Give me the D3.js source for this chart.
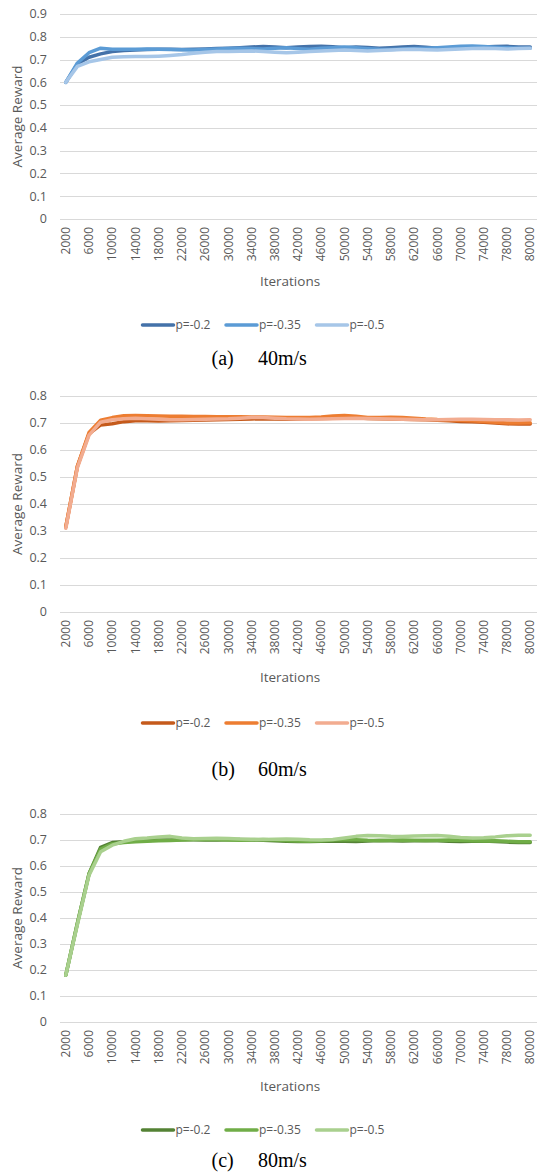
<!DOCTYPE html>
<html>
<head>
<meta charset="utf-8">
<script src="https://cdn.jsdelivr.net/npm/d3@7"></script>
<style>
  html, body { margin: 0; padding: 0; background: #fff; }
  svg { display: block; }
</style>
</head>
<body>
<svg id="chart" width="537" height="1176"></svg>
<script>
// ---------------- DATA ----------------
const iterations = [2000,4000,6000,8000,10000,12000,14000,16000,18000,20000,
  22000,24000,26000,28000,30000,32000,34000,36000,38000,40000,
  42000,44000,46000,48000,50000,52000,54000,56000,58000,60000,
  62000,64000,66000,68000,70000,72000,74000,76000,78000,79000,80000];
const tickLabels = ["2000","6000","10000","14000","18000","22000","26000","30000","34000","38000",
  "42000","46000","50000","54000","58000","62000","66000","70000","74000","78000","80000"];
const seriesNames = ["p=-0.2","p=-0.35","p=-0.5"];

const yTicksA = [0,0.1,0.2,0.3,0.4,0.5,0.6,0.7,0.8,0.9];
const yTicksB = [0,0.1,0.2,0.3,0.4,0.5,0.6,0.7,0.8];
const yTicksC = [0,0.1,0.2,0.3,0.4,0.5,0.6,0.7,0.8];

// (a) 40m/s
const a_p02  = [0.60,0.68,0.71,0.725,0.735,0.74,0.742,0.744,0.745,0.745,0.744,0.745,0.746,0.748,0.75,0.752,0.755,0.757,0.755,0.752,0.755,0.757,0.758,0.756,0.752,0.755,0.753,0.75,0.752,0.755,0.757,0.754,0.75,0.752,0.754,0.756,0.755,0.757,0.758,0.755,0.755];
const a_p035 = [0.60,0.685,0.73,0.75,0.745,0.745,0.745,0.746,0.745,0.744,0.743,0.742,0.744,0.746,0.748,0.75,0.748,0.746,0.75,0.752,0.748,0.745,0.75,0.752,0.755,0.752,0.748,0.745,0.744,0.746,0.748,0.75,0.752,0.755,0.758,0.76,0.757,0.754,0.752,0.75,0.75];
const a_p05  = [0.60,0.67,0.69,0.70,0.71,0.712,0.713,0.713,0.715,0.718,0.722,0.728,0.732,0.735,0.735,0.736,0.738,0.735,0.732,0.73,0.732,0.735,0.738,0.74,0.742,0.74,0.738,0.74,0.742,0.744,0.745,0.743,0.742,0.744,0.746,0.748,0.75,0.748,0.746,0.748,0.75];

// (b) 60m/s
const b_p02  = [0.315,0.54,0.66,0.693,0.697,0.705,0.708,0.708,0.707,0.708,0.709,0.71,0.711,0.712,0.713,0.714,0.715,0.716,0.715,0.714,0.715,0.716,0.717,0.718,0.72,0.719,0.717,0.716,0.715,0.714,0.713,0.712,0.71,0.708,0.706,0.705,0.703,0.70,0.697,0.696,0.696];
const b_p035 = [0.315,0.54,0.665,0.71,0.72,0.727,0.728,0.727,0.726,0.725,0.725,0.724,0.724,0.723,0.723,0.723,0.722,0.722,0.721,0.72,0.72,0.72,0.722,0.726,0.728,0.725,0.72,0.72,0.721,0.72,0.718,0.715,0.713,0.712,0.71,0.708,0.706,0.703,0.70,0.70,0.701];
const b_p05  = [0.31,0.535,0.655,0.703,0.712,0.716,0.718,0.716,0.714,0.712,0.712,0.713,0.714,0.715,0.716,0.718,0.72,0.72,0.718,0.716,0.715,0.714,0.715,0.716,0.717,0.718,0.717,0.716,0.715,0.714,0.713,0.712,0.712,0.713,0.714,0.714,0.713,0.712,0.712,0.711,0.712];

// (c) 80m/s
const c_p02  = [0.18,0.38,0.57,0.672,0.69,0.693,0.696,0.698,0.70,0.70,0.701,0.701,0.70,0.70,0.701,0.702,0.701,0.699,0.697,0.695,0.694,0.694,0.695,0.696,0.695,0.694,0.696,0.698,0.697,0.696,0.697,0.698,0.697,0.695,0.694,0.695,0.696,0.694,0.692,0.69,0.69];
const c_p035 = [0.18,0.38,0.57,0.665,0.685,0.69,0.693,0.695,0.697,0.698,0.70,0.702,0.703,0.702,0.70,0.699,0.70,0.702,0.70,0.698,0.696,0.695,0.697,0.70,0.702,0.701,0.699,0.698,0.699,0.70,0.699,0.698,0.699,0.70,0.699,0.697,0.696,0.697,0.695,0.693,0.693];
const c_p05  = [0.18,0.375,0.565,0.655,0.68,0.695,0.705,0.708,0.712,0.714,0.708,0.705,0.706,0.707,0.706,0.704,0.703,0.702,0.703,0.704,0.703,0.701,0.70,0.702,0.708,0.714,0.717,0.716,0.714,0.713,0.715,0.716,0.717,0.714,0.71,0.708,0.709,0.712,0.716,0.718,0.718];

const captions = [["(a)","40m/s"],["(b)","60m/s"],["(c)","80m/s"]];

// ---------------- LAYOUT ----------------
const panels = [
  { series:[a_p02,a_p035,a_p05], colors:["#4472a9","#5b9bd5","#a6c6e8"], ticks:yTicksA, yMax:0.9, top:14, base:219,
    titleY:281, legendY:325, capY:365, caption:captions[0] },
  { series:[b_p02,b_p035,b_p05], colors:["#c55a1b","#ed7d31","#f2ac90"], ticks:yTicksB, yMax:0.8, top:396, base:612,
    titleY:677, legendY:723, capY:776, caption:captions[1] },
  { series:[c_p02,c_p035,c_p05], colors:["#548235","#70ad47","#a9d08e"], ticks:yTicksC, yMax:0.8, top:814, base:1022,
    titleY:1086, legendY:1130, capY:1167, caption:captions[2] }
];

const svg = d3.select("#chart");
const plotL = 60, plotR = 537;
const x = d3.scaleBand().domain(iterations).range([plotL, 536]).paddingInner(0).paddingOuter(0);
const xc = d => x(d) + x.bandwidth()/2;
const labelIdx = d3.range(0, iterations.length, 2);
const FONT = "'Open Sans', 'Liberation Sans', sans-serif";
const GRAY = "#595959";

panels.forEach(p => {
  const g = svg.append("g");
  const y = d3.scaleLinear().domain([0, p.yMax]).range([p.base, p.top]);

  // gridlines
  g.selectAll("line.grid").data(p.ticks).join("line")
    .attr("x1", plotL).attr("x2", plotR)
    .attr("y1", d => Math.round(y(d)) + 0.5).attr("y2", d => Math.round(y(d)) + 0.5)
    .attr("stroke", "#d9d9d9").attr("stroke-width", 1);

  // y tick labels
  g.selectAll("text.yt").data(p.ticks).join("text")
    .attr("x", 47).attr("y", d => y(d)).attr("dy", "0.35em")
    .attr("text-anchor", "end").attr("fill", GRAY)
    .style("font-family", FONT).style("font-size", "12.5px")
    .text(d => d3.format("")(d));

  // y axis title
  g.append("text")
    .attr("transform", `translate(22,${(p.top + p.base)/2}) rotate(-90)`)
    .attr("text-anchor", "middle").attr("fill", GRAY)
    .style("font-family", FONT).style("font-size", "13.5px")
    .text("Average Reward");

  // x tick labels
  g.selectAll("text.xt").data(labelIdx).join("text")
    .attr("transform", (d) => `translate(${xc(iterations[d])},${p.base + 8}) rotate(-90)`)
    .attr("dy", "0.35em")
    .attr("text-anchor", "end").attr("fill", GRAY)
    .style("font-family", FONT).style("font-size", "12px")
    .text((d, i) => tickLabels[i]);

  // x axis title
  g.append("text")
    .attr("x", 290).attr("y", p.titleY).attr("dy", "0.35em")
    .attr("text-anchor", "middle").attr("fill", GRAY)
    .style("font-family", FONT).style("font-size", "13.5px")
    .text("Iterations");

  // lines
  const line = d3.line().x((d, i) => xc(iterations[i])).y(d => y(d)).curve(d3.curveLinear);
  p.series.forEach((s, k) => {
    g.append("path").datum(s)
      .attr("d", line)
      .attr("fill", "none")
      .attr("stroke", p.colors[k])
      .attr("stroke-width", 3.5)
      .attr("stroke-linecap", "round")
      .attr("stroke-linejoin", "round");
  });

  // legend
  const legX = [142.5, 226, 316.5];
  seriesNames.forEach((name, k) => {
    g.append("line")
      .attr("x1", legX[k]).attr("x2", legX[k] + 31)
      .attr("y1", p.legendY).attr("y2", p.legendY)
      .attr("stroke", p.colors[k]).attr("stroke-width", 3.5).attr("stroke-linecap", "round");
    g.append("text")
      .attr("x", legX[k] + 33).attr("y", p.legendY).attr("dy", "0.35em")
      .attr("fill", GRAY)
      .style("font-family", FONT).style("font-size", "12px")
      .text(name);
  });

  // caption
  g.append("text").attr("x", 211.5).attr("y", p.capY)
    .style("font-family", "'Liberation Serif', 'Times New Roman', serif").style("font-size", "20px")
    .attr("fill", "#000").text(p.caption[0]);
  g.append("text").attr("x", 258).attr("y", p.capY)
    .style("font-family", "'Liberation Serif', 'Times New Roman', serif").style("font-size", "20px")
    .attr("fill", "#000").text(p.caption[1]);
});
</script>
</body>
</html>
